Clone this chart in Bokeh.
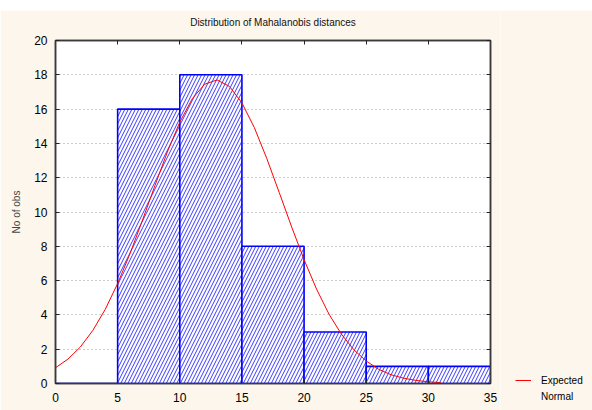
from bokeh.plotting import figure
from bokeh.models import Range1d, LinearAxis, Legend, LegendItem, FixedTicker, Title
from bokeh.embed import file_html
from bokeh.resources import INLINE

# ---- data ----
bin_left = [0, 5, 10, 15, 20, 25, 30]
bin_right = [5, 10, 15, 20, 25, 30, 35]
counts = [0, 16, 18, 8, 3, 1, 1]

curve_x = [0, 1, 2, 3, 4, 5, 6, 7, 8, 9, 10, 11, 12, 13, 14, 15,
           16, 17, 18, 19, 20, 21, 22, 23, 24, 25, 26, 27, 28, 29, 30, 31]
curve_y = [0.92, 1.42, 2.13, 3.09, 4.32, 5.83, 7.58, 9.53, 11.54, 13.50, 15.24,
           16.60, 17.45, 17.70, 17.32, 16.36, 14.92, 13.12, 11.14, 9.13, 7.22,
           5.51, 4.05, 2.88, 1.97, 1.31, 0.83, 0.51, 0.31, 0.18, 0.10, 0.05]

x_ticks = [0, 5, 10, 15, 20, 25, 30, 35]
y_ticks = [0, 2, 4, 6, 8, 10, 12, 14, 16, 18, 20]

title_text = "Distribution of Mahalanobis distances"
y_label = "No of obs"
legend_line1 = "Expected"
legend_line2 = "Normal"

FONT = "Liberation Sans"
BG = "#fdf6ec"

p = figure(width=500, height=400, output_backend="svg", toolbar_location=None,
           x_range=Range1d(0, 35), y_range=Range1d(0, 20),
           min_border_left=55, min_border_right=10, min_border_top=30,
           min_border_bottom=27)
p.background_fill_color = "white"
p.border_fill_color = BG
p.outline_line_color = "#3a3a3a"
p.outline_line_width = 1.5

p.title.text = title_text
p.title.align = "center"
p.title.text_font = FONT
p.title.text_font_size = "10px"
p.title.text_font_style = "normal"
p.title.text_color = "#111111"
p.title.standoff = 0

# bars
p.quad(left=bin_left, right=bin_right, bottom=0, top=counts,
       fill_color="white", line_color="#0000ff", line_width=1.6,
       hatch_pattern="/", hatch_color="#3a3aff", hatch_scale=7, hatch_weight=1)

# expected normal curve
p.line(curve_x, curve_y, line_color="#ff0000", line_width=1)

# axes
for ax in (p.xaxis[0], p.yaxis[0]):
    ax.axis_line_color = "#3a3a3a"
    ax.axis_line_width = 1.5
    ax.major_tick_in = 4
    ax.major_tick_out = 0
    ax.major_tick_line_color = "#222222"
    ax.minor_tick_line_color = None
    ax.major_label_text_font = FONT
    ax.major_label_text_font_size = "12px"
    ax.major_label_text_color = "black"
p.xaxis[0].ticker = FixedTicker(ticks=x_ticks)
p.yaxis[0].ticker = FixedTicker(ticks=y_ticks)
p.xaxis[0].major_label_standoff = 9
p.yaxis[0].major_label_standoff = 8
p.yaxis[0].axis_label = y_label
p.yaxis[0].axis_label_text_font = FONT
p.yaxis[0].axis_label_text_font_size = "10px"
p.yaxis[0].axis_label_text_font_style = "normal"
p.yaxis[0].axis_label_standoff = 9

right_ax = LinearAxis(ticker=FixedTicker(ticks=y_ticks),
                      major_label_overrides={t: "" for t in y_ticks},
                      major_tick_in=4, major_tick_out=0, minor_tick_line_color=None,
                      axis_line_color="#3a3a3a", axis_line_width=1.5,
                      major_tick_line_color="#222222", major_label_standoff=0)
top_ax = LinearAxis(ticker=FixedTicker(ticks=x_ticks),
                    major_label_overrides={t: "" for t in x_ticks},
                    major_tick_in=4, major_tick_out=0, minor_tick_line_color=None,
                    axis_line_color="#3a3a3a", axis_line_width=1.5,
                    major_tick_line_color="#222222", major_label_standoff=0)
p.add_layout(right_ax, "right")
p.add_layout(top_ax, "above")
# blank spacer between the top axis and the title
p.add_layout(Title(text=" ", text_font=FONT, text_font_size="10px", standoff=0), "above")

# grid
p.xgrid.grid_line_color = None
p.ygrid.ticker = FixedTicker(ticks=y_ticks)
p.ygrid.grid_line_color = "#999999"
p.ygrid.grid_line_dash = "1 3"
p.ygrid.grid_line_width = 1

# legend panel (separate small figure placed to the right)
lg = figure(width=92, height=400, output_backend="svg", toolbar_location=None,
            x_range=Range1d(0, 1), y_range=Range1d(0, 1),
            x_axis_type=None, y_axis_type=None,
            min_border_left=0, min_border_right=0, min_border_top=0, min_border_bottom=0)
lg.title = None
lg.background_fill_color = BG
lg.border_fill_color = BG
lg.outline_line_color = None
lg.grid.grid_line_color = None
# single-point lines: nothing drawn in the frame, but they give the legend its glyphs
r_exp = lg.line(x=curve_x[:1], y=curve_y[:1], line_color="#ff0000", line_width=1)
r_norm = lg.line(x=curve_x[:1], y=curve_y[:1], line_alpha=0)
legend = Legend(items=[LegendItem(label=legend_line1, renderers=[r_exp]),
                       LegendItem(label=legend_line2, renderers=[r_norm])],
                location=(15, 6), orientation="vertical",
                padding=0, margin=0, spacing=0, glyph_width=16, glyph_height=16,
                label_height=16, label_standoff=10, label_text_font=FONT,
                label_text_font_size="10px", label_text_color="black",
                border_line_color=None, background_fill_alpha=0)
lg.add_layout(legend)

html = file_html([p, lg], INLINE)
html = html.replace("</head>",
                    "<style>html{margin:0 !important;padding:0 !important;background:#ffffff;}"
                    "body{margin:0 !important;padding:10px 0 0 0 !important;background:#ffffff;"
                    "display:flex !important;flex-direction:row;align-items:flex-start;"
                    "height:auto !important;}</style></head>")
open("out.html", "w").write(html)
